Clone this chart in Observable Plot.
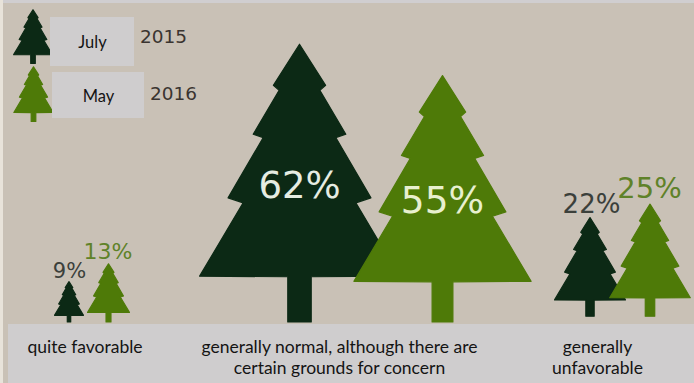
<!DOCTYPE html>
<html>
<head>
<meta charset="utf-8">
<script src="https://cdn.jsdelivr.net/npm/d3@7"></script>
<script src="https://cdn.jsdelivr.net/npm/@observablehq/plot@0.6"></script>
<style>
  html, body { margin: 0; padding: 0; background: #c9c1b6; }
  svg { display: block; }
</style>
</head>
<body>
<div id="chart"></div>
<script>
// Survey results: share of answers per assessment, July 2015 against May 2016
const july2015 = [9, 62, 22];
const may2016 = [13, 55, 25];
const categoryLines = [
  ["quite favorable"],
  ["generally normal, although there are", "certain grounds for concern"],
  ["generally", "unfavorable"]
];
const legendYears = ["2015", "2016"];
const legendMonths = ["July", "May"];

// Tree outline, right half, as fractions of the tree's height
const halfOutline = [
  [0, 1], [0.0936, 0.852], [0.073, 0.834], [0.166, 0.676], [0.130, 0.664],
  [0.256, 0.447], [0.202, 0.429], [0.358, 0.165], [0.042, 0.163], [0.042, 0]
];
const outline = [...halfOutline, ...halfOutline.slice(1).reverse().map(([u, v]) => [-u, v])];

const dark = "#0c2915";
const green = "#4e7a08";
const width = 694, height = 383;

// The y scale is in percentage points: one point of survey share is one unit of tree height
const pxPerPoint = 4.48;
const groundPx = 321.5;
const fromPx = (py) => (groundPx - py) / pxPerPoint;
const y = {domain: [0, groundPx / pxPerPoint], range: [groundPx, 0]};
const aspect = 4.5; // horizontal pixels per point of tree size

function tree(value, cx, lift, fill, id) {
  return outline.map(([u, v]) => ({
    id, fill,
    x: cx + u * value * aspect,
    y: lift + v * value
  }));
}

// Placement of each tree along the x axis and its lift above the ground line
const julyX = [68.5, 299, 589.5];
const mayX = [108, 442, 649.5];
const lifts = [0, 0, 1.3];

const legendTrees = [
  tree(12, 32.5, fromPx(63), dark, "legend-july"),
  tree(12.2, 33, fromPx(121), green, "legend-may")
].flat();
const julyTrees = july2015.flatMap((v, i) => tree(v, julyX[i], lifts[i], dark, "july-" + i));
const mayTrees = may2016.flatMap((v, i) => tree(v, mayX[i], lifts[i], green, "may-" + i));

const treeMark = (data) => Plot.line(data, {
  x: "x", y: "y", z: "id", fill: "fill", stroke: "fill",
  strokeWidth: 1.2, strokeLinejoin: "round", curve: "linear-closed"
});

const fonts = "'DejaVu Sans', sans-serif";
const valueLabels = [
  {text: july2015[0] + "%", x: 69, py: 277, size: 21, color: "#3b403b"},
  {text: may2016[0] + "%", x: 107.5, py: 258, size: 22, color: "#5f8229"},
  {text: july2015[1] + "%", x: 299, py: 197, size: 37, color: "#e6ece2"},
  {text: may2016[1] + "%", x: 442, py: 212, size: 37.5, color: "#e8f0cf"},
  {text: july2015[2] + "%", x: 591, py: 212, size: 26, color: "#3b403b"},
  {text: may2016[2] + "%", x: 649, py: 197, size: 29, color: "#5f8229"},
  {text: legendYears[0], x: 163, py: 42, size: 18.5, color: "#3a3430"},
  {text: legendYears[1], x: 173, py: 99, size: 18.5, color: "#3a3430"}
].map((d) => ({...d, y: fromPx(d.py)}));

const captionCenters = [84.5, 339, 597];
const captionBaselines = [352, 373.5];
const captions = categoryLines.flatMap((lines, i) => lines.map((text, j) => ({
  text, x: captionCenters[i], y: fromPx(lines.length === 1 ? captionBaselines[0] : captionBaselines[j])
})));
const monthCaptions = [
  {text: legendMonths[0], x: 92, y: fromPx(47)},
  {text: legendMonths[1], x: 98, y: fromPx(101)}
];

const panels = [
  {x1: 50, x2: 134, y1: fromPx(17), y2: fromPx(66)},
  {x1: 52, x2: 144, y1: fromPx(72), y2: fromPx(118)}
];
const bands = [
  {x1: 3, x2: width, y1: fromPx(0), y2: fromPx(3)},
  {x1: 8, x2: width, y1: fromPx(324), y2: fromPx(height)}
];
const edge = [{x1: 0, x2: 3, y1: fromPx(0), y2: fromPx(height)}];

const softText = valueLabels.map((d) =>
  Plot.text([d], {
    x: "x", y: "y", text: "text", fontFamily: fonts, fontSize: d.size,
    fill: d.color, lineAnchor: "bottom", textAnchor: "middle", ariaLabel: "soft"
  })
);
const captionText = (data, size) => Plot.text(data, {
  x: "x", y: "y", text: "text", fontFamily: "Lato, sans-serif", fontSize: size,
  fill: "#141414", lineAnchor: "bottom", textAnchor: "middle"
});

const plot = Plot.plot({
  width, height,
  margin: 0,
  x: {domain: [0, width], range: [0, width], axis: null},
  y: {...y, axis: null},
  style: {background: "#c9c1b6"},
  marks: [
    Plot.rect(edge, {x1: "x1", x2: "x2", y1: "y1", y2: "y2", fill: "#e8e3da"}),
    Plot.rect(bands.slice(0, 1), {x1: "x1", x2: "x2", y1: "y1", y2: "y2", fill: "#d0ced0"}),
    treeMark(legendTrees),
    treeMark(julyTrees),
    treeMark(mayTrees),
    ...softText,
    Plot.rect(bands.slice(1), {x1: "x1", x2: "x2", y1: "y1", y2: "y2", fill: "#cfcdce"}),
    Plot.rect(panels, {x1: "x1", x2: "x2", y1: "y1", y2: "y2", fill: "#cfcdce"}),
    captionText(captions, 17.5),
    captionText(monthCaptions, 16.5)
  ]
});

// The photographed artwork is slightly soft, the captions laid over it are crisp
d3.select(plot).selectAll("g[aria-label='line'], g[aria-label='soft']").style("filter", "blur(0.5px)");
document.getElementById("chart").appendChild(plot);
</script>
</body>
</html>
